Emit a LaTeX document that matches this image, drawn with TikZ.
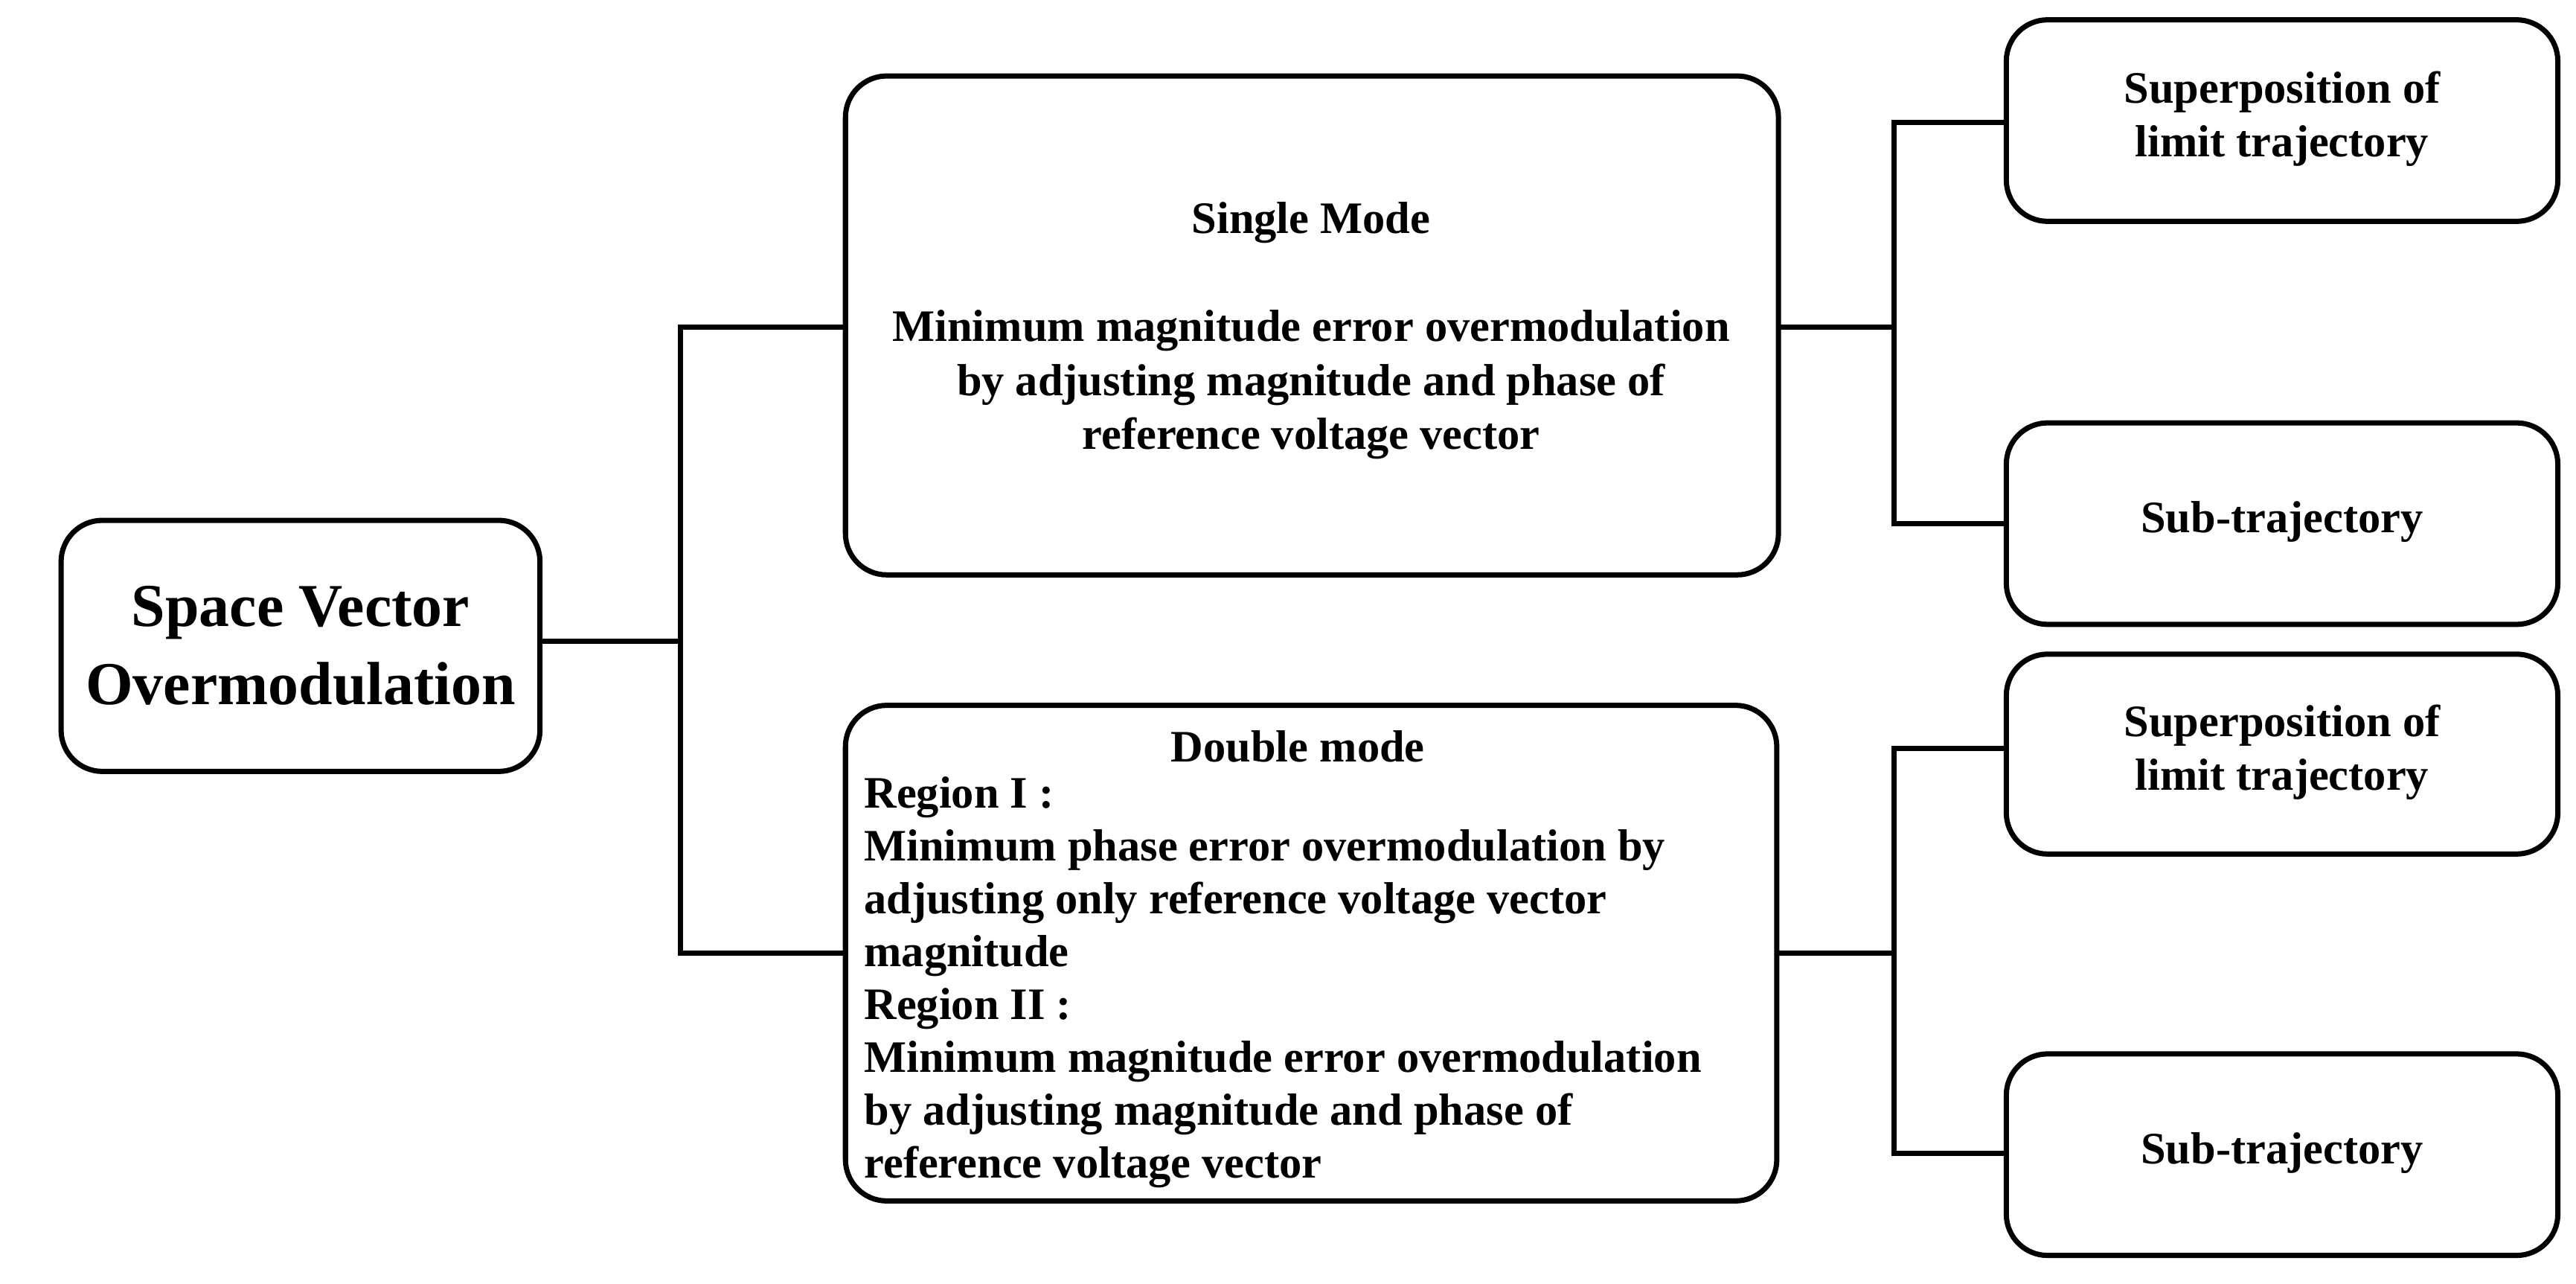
\documentclass[tikz,border=0pt]{standalone}
\usepackage{fontspec}
\setmainfont{Liberation Serif}
\begin{document}
\begin{tikzpicture}[x=0.02cm,y=-0.02cm,
  box/.style={draw,line width=1.8pt,rounded corners=0.5cm},
  ln/.style={line width=1.8pt},
  txt/.style={font=\fontsize{15.5}{18.6}\selectfont\bfseries,align=center,inner sep=0pt}]
\useasboundingbox (0,0) rectangle (1560,777);
\draw[box] (37,315) rectangle (327,467);
\node[font=\fontsize{21}{25}\selectfont\bfseries,align=center] (svo) at (182,391) {Space Vector\\[2pt]Overmodulation};
\coordinate (L) at (327,388);
\draw[box] (512,46) rectangle (1077,348);
\coordinate (S) at (512,198); \coordinate (Sr) at (1077,198);
\node[txt] (sm) at (794,135) {Single Mode};
\node[txt] (smt) at (794,233) {Minimum magnitude error overmodulation\\by adjusting magnitude and phase of\\reference voltage vector};
\draw[box] (512,427) rectangle (1076,727);
\coordinate (D) at (512,577); \coordinate (Dr) at (1076,577);
\node[txt] (dm) at (786,452) {Double mode};
\node[txt,align=left,anchor=north west,font=\fontsize{15.5}{18.2}\selectfont\bfseries] (dmt) at (523,470)
 {Region I :\\ Minimum phase error overmodulation by\\ adjusting only reference voltage vector\\ magnitude\\ Region II :\\ Minimum magnitude error overmodulation\\ by adjusting magnitude and phase of\\ reference voltage vector};
\foreach \n/\a/\b/\t in {r1/12/134/{Superposition of\\limit trajectory},r2/256/378/{Sub-trajectory},r3/396/517/{Superposition of\\limit trajectory},r4/638/760/{Sub-trajectory}}{
  \draw[box] (1215,\a) rectangle (1549,\b);
  \node[txt] (\n) at (1382,{(\a+\b)/2-1}) {\t};
}
\coordinate (R1) at (1215,74); \coordinate (R2) at (1215,317);
\coordinate (R3) at (1215,453); \coordinate (R4) at (1215,698);
\draw[ln] (L) -- (412,388);
\draw[ln] (S) -- (412,198) -- (412,577) -- (D);
\draw[ln] (Sr) -- (1147,198);
\draw[ln] (R1) -- (1147,74) -- (1147,317) -- (R2);
\draw[ln] (Dr) -- (1147,577);
\draw[ln] (R3) -- (1147,453) -- (1147,698) -- (R4);
\end{tikzpicture}
\end{document}
